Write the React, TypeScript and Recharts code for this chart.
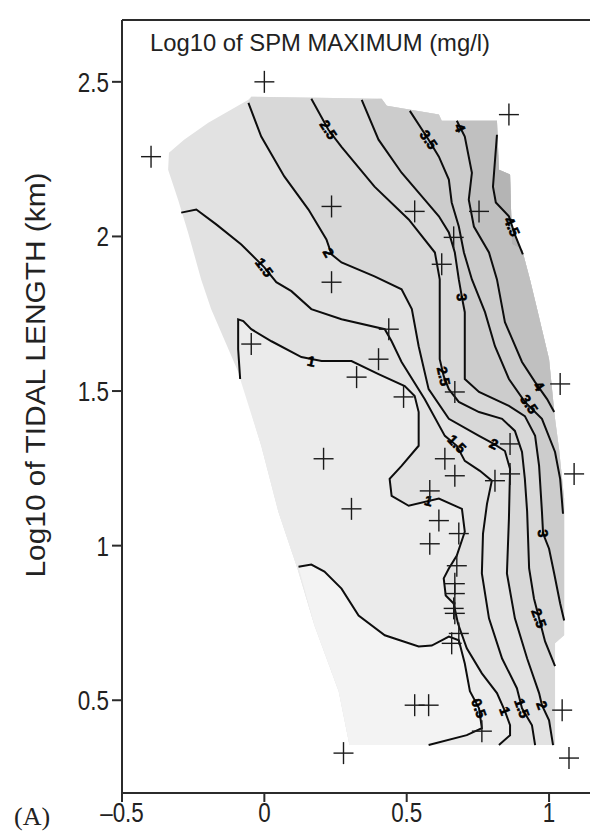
import React from "react";
import { ComposedChart, Scatter, XAxis, YAxis } from "recharts";

type XY = [number, number];

// outline of the gridded (shaded) area, clockwise from top-left
const HULL: XY[] = [
  [-0.056, 2.442], [-0.046, 2.452], [0.412, 2.445], [0.43, 2.423], [0.613, 2.394],
  [0.623, 2.374], [0.817, 2.374], [0.824, 2.216], [0.863, 2.2], [0.87, 1.974],
  [0.905, 1.958], [0.933, 1.861], [0.958, 1.765], [1.0, 1.603], [1.021, 1.41],
  [1.035, 1.313], [1.053, 1.152], [1.053, 0.71], [1.021, 0.684], [1.021, 0.355],
  [0.299, 0.355], [0.261, 0.529], [0.176, 0.742], [0.116, 0.926], [0.049, 1.11],
  [-0.011, 1.323], [-0.081, 1.539], [-0.187, 1.765], [-0.222, 1.861], [-0.268, 2.013],
  [-0.303, 2.119], [-0.338, 2.216], [-0.335, 2.271], [-0.282, 2.313], [-0.197, 2.368],
];

// contour lines (log10 SPM max)
const LINE_05: XY[] = [
  [0.12, 0.932], [0.165, 0.939], [0.211, 0.916], [0.271, 0.861], [0.331, 0.774],
  [0.423, 0.71], [0.542, 0.674], [0.588, 0.677], [0.648, 0.706], [0.683, 0.694],
  [0.704, 0.619], [0.722, 0.529], [0.754, 0.474], [0.764, 0.41], [0.711, 0.387],
  [0.577, 0.355],
];
const LINE_1: XY[] = [
  [-0.085, 1.539], [-0.092, 1.635], [-0.092, 1.732], [-0.074, 1.726], [-0.046, 1.7],
  [0.025, 1.661], [0.13, 1.61], [0.201, 1.597], [0.306, 1.597], [0.401, 1.555],
  [0.493, 1.516], [0.528, 1.484], [0.542, 1.432], [0.542, 1.323], [0.482, 1.258],
  [0.44, 1.216], [0.447, 1.161], [0.507, 1.129], [0.613, 1.152], [0.694, 1.119],
  [0.704, 1.045], [0.676, 0.968], [0.648, 0.926], [0.63, 0.894], [0.637, 0.839],
  [0.665, 0.813], [0.68, 0.748], [0.711, 0.668], [0.764, 0.587], [0.817, 0.523],
  [0.845, 0.465], [0.863, 0.419], [0.863, 0.387], [0.824, 0.355],
];
const LINE_15: XY[] = [
  [-0.292, 2.077], [-0.239, 2.087], [-0.169, 2.039], [-0.081, 1.974], [0.0, 1.9],
  [0.042, 1.852], [0.095, 1.823], [0.165, 1.765], [0.271, 1.732], [0.423, 1.7],
  [0.447, 1.661], [0.482, 1.594], [0.563, 1.474], [0.634, 1.355], [0.676, 1.323],
  [0.704, 1.274], [0.757, 1.242], [0.799, 1.21], [0.782, 1.135], [0.768, 1.039],
  [0.764, 0.91], [0.789, 0.765], [0.835, 0.635], [0.887, 0.539], [0.905, 0.474],
  [0.94, 0.419], [0.951, 0.355],
];
const LINE_2: XY[] = [
  [-0.056, 2.432], [-0.011, 2.323], [0.07, 2.194], [0.155, 2.087], [0.218, 1.99],
  [0.236, 1.942], [0.271, 1.916], [0.387, 1.871], [0.482, 1.829], [0.518, 1.765],
  [0.542, 1.645], [0.577, 1.506], [0.648, 1.41], [0.754, 1.355], [0.806, 1.329],
  [0.845, 1.306], [0.863, 1.248], [0.859, 1.087], [0.852, 0.91], [0.88, 0.765],
  [0.923, 0.635], [0.965, 0.523], [0.975, 0.484], [1.0, 0.435], [1.014, 0.355],
];
const LINE_25: XY[] = [
  [0.165, 2.445], [0.225, 2.345], [0.271, 2.29], [0.387, 2.161], [0.507, 2.055],
  [0.599, 1.948], [0.616, 1.861], [0.616, 1.603], [0.63, 1.548], [0.648, 1.506],
  [0.683, 1.465], [0.754, 1.432], [0.835, 1.41], [0.88, 1.371], [0.905, 1.303],
  [0.915, 1.216], [0.923, 1.11], [0.93, 0.926], [0.947, 0.829], [0.965, 0.765],
  [0.986, 0.69], [1.021, 0.61],
];
const LINE_3: XY[] = [
  [0.342, 2.442], [0.401, 2.313], [0.482, 2.206], [0.563, 2.119], [0.613, 2.065],
  [0.648, 2.013], [0.669, 1.948], [0.683, 1.861], [0.694, 1.803], [0.704, 1.755],
  [0.704, 1.539], [0.754, 1.497], [0.859, 1.452], [0.915, 1.419], [0.951, 1.355],
  [0.965, 1.258], [0.975, 1.11], [0.979, 1.039], [1.0, 0.99], [1.018, 0.91],
  [1.039, 0.813], [1.053, 0.758],
];
const LINE_35: XY[] = [
  [0.511, 2.406], [0.577, 2.313], [0.613, 2.258], [0.648, 2.184], [0.658, 2.11],
  [0.683, 2.032], [0.701, 1.948], [0.729, 1.861], [0.775, 1.755], [0.81, 1.645],
  [0.859, 1.539], [0.915, 1.465], [0.975, 1.41], [1.021, 1.303], [1.039, 1.216],
  [1.049, 1.103],
];
const LINE_4: XY[] = [
  [0.676, 2.374], [0.704, 2.323], [0.729, 2.206], [0.718, 2.119], [0.736, 2.032],
  [0.789, 1.948], [0.817, 1.861], [0.845, 1.723], [0.905, 1.594], [0.951, 1.529],
  [0.993, 1.474], [1.018, 1.432],
];
const LINE_45: XY[] = [
  [0.817, 2.329], [0.803, 2.161], [0.813, 2.11], [0.859, 2.065], [0.88, 2.006],
  [0.908, 1.942],
];

// estuaries (crosses)
const STATIONS: XY[] = [
  [0, 2.5], [-0.398, 2.258], [0.236, 2.097], [0.528, 2.081], [0.859, 2.394],
  [0.754, 2.081], [0.665, 1.997], [0.623, 1.91], [0.236, 1.852], [0.437, 1.7],
  [0.401, 1.603], [0.324, 1.545], [0.489, 1.481], [0.669, 1.497], [-0.046, 1.652],
  [1.039, 1.523], [0.208, 1.281], [0.306, 1.119], [0.634, 1.281], [0.669, 1.226],
  [0.863, 1.329], [0.863, 1.232], [0.81, 1.21], [1.088, 1.232], [0.581, 1.177],
  [0.613, 1.081], [0.683, 1.039], [0.581, 1.006], [0.676, 0.935], [0.669, 0.877],
  [0.669, 0.845], [0.665, 0.797], [0.669, 0.781], [0.683, 0.716], [0.658, 0.684],
  [0.528, 0.484], [0.577, 0.484], [0.278, 0.329], [1.046, 0.468], [1.07, 0.313],
  [0.764, 0.4],
];

// contour labels: x, y, text, angle
const CONTOUR_LABELS: [number, number, string, number][] = [
  [0.225, 2.345, "2.5", 57], [0.577, 2.313, "3.5", 55], [0.687, 2.352, "4", 70],
  [0.87, 2.032, "4.5", 65], [0.225, 1.948, "2", 60], [0.0, 1.9, "1.5", 53],
  [0.165, 1.597, "1", 12], [0.694, 1.803, "3", 88], [0.63, 1.548, "2.5", 78],
  [0.676, 1.329, "1.5", 45], [0.806, 1.329, "2", 25], [0.577, 1.145, "1", 15],
  [0.93, 1.458, "3.5", 55], [0.965, 1.516, "4", 55], [0.979, 1.039, "3", 85],
  [0.965, 0.765, "2.5", 70], [0.754, 0.474, "0.5", 70], [0.845, 0.465, "1", 70],
  [0.905, 0.474, "1.5", 70], [0.975, 0.484, "2", 70],
];

const X_TICKS = [-0.5, 0, 0.5, 1];
const Y_TICKS = [0.5, 1, 1.5, 2, 2.5];

const SANS = "'Liberation Sans', Arial, sans-serif";
const AXIS = { stroke: "#2b2b2b", strokeWidth: 2 };

const pts = (a: XY[]) => a.map(([x, y]) => ({ x, y }));
const span = (a: number, b: number) => {
  const out: number[] = [];
  const s = a <= b ? 1 : -1;
  for (let i = a; i !== b + s; i += s) out.push(i);
  return out;
};
const region = (line: XY[], a: number, b: number) =>
  pts([...line, ...span(a, b).map((i) => HULL[i])]);

const BANDS = [
  { key: "all", data: pts(HULL), fill: "#e2e2e2" },
  { key: "lt1", data: region(LINE_1, 20, 25), fill: "#ebebeb" },
  { key: "lt05", data: region(LINE_05, 20, 22), fill: "#f3f3f3" },
  { key: "ge2", data: region(LINE_2, 19, 1), fill: "#d8d8d8" },
  { key: "ge3", data: region(LINE_3, 16, 2), fill: "#cccccc" },
  { key: "ge4", data: region(LINE_4, 13, 6), fill: "#c0c0c0" },
  { key: "ge45", data: region(LINE_45, 10, 7), fill: "#b4b4b4" },
];

const LINES = [LINE_05, LINE_1, LINE_15, LINE_2, LINE_25, LINE_3, LINE_35, LINE_4, LINE_45];

const fmt = (v: number) => (v < 0 ? "\u2013" + Math.abs(v) : String(v));

const NoDot = () => <g />;

const Cross = (props: any) => {
  const { cx, cy } = props;
  return (
    <g stroke="#1a1a1a" strokeWidth={1.4}>
      <line x1={cx - 10} y1={cy} x2={cx + 10} y2={cy} />
      <line x1={cx} y1={cy - 11} x2={cx} y2={cy + 11} />
    </g>
  );
};

const LevelLabel = (props: any) => {
  const { cx, cy, payload } = props;
  return (
    <text
      x={cx}
      y={cy}
      dy={5}
      transform={`rotate(${payload.a} ${cx} ${cy})`}
      textAnchor="middle"
      fontSize={14}
      fontWeight="bold"
      fontFamily={SANS}
      fill="#000"
      stroke="#000"
      strokeWidth={0.6}
    >
      {payload.t}
    </text>
  );
};

const XTick = ({ x, y, payload }: any) => (
  <g transform={`translate(${x},${y}) scale(0.8,1)`}>
    <text x={0} y={0} dy={20} textAnchor="middle" fontSize={28} fill="#222" fontFamily={SANS}>
      {fmt(payload.value)}
    </text>
  </g>
);

const YTick = ({ x, y, payload }: any) => (
  <g transform={`translate(${x},${y}) scale(0.8,1)`}>
    <text x={0} y={0} dy={10} textAnchor="end" fontSize={28} fill="#222" fontFamily={SANS}>
      {fmt(payload.value)}
    </text>
  </g>
);

export default function App() {
  const labels = CONTOUR_LABELS.map(([x, y, t, a]) => ({ x, y, t, a }));
  return (
    <div style={{ position: "relative", width: 590, height: 823, overflow: "hidden" }}>
      <ComposedChart width={608} height={823} margin={{ top: 2, right: 10, bottom: 8, left: 54 }}>
        <XAxis
          type="number"
          dataKey="x"
          domain={[-0.5, 1.2]}
          allowDataOverflow
          ticks={X_TICKS}
          height={30}
          tickSize={9}
          tickMargin={0}
          axisLine={AXIS}
          tickLine={AXIS}
          tick={<XTick />}
        />
        <XAxis
          xAxisId="top"
          orientation="top"
          type="number"
          dataKey="x"
          domain={[-0.5, 1.2]}
          allowDataOverflow
          ticks={X_TICKS}
          height={10}
          tickSize={10}
          axisLine={AXIS}
          tickLine={AXIS}
          tick={false}
        />
        <YAxis
          type="number"
          dataKey="y"
          domain={[0.2, 2.7]}
          allowDataOverflow
          ticks={Y_TICKS}
          width={60}
          tickSize={10}
          tickMargin={3}
          axisLine={AXIS}
          tickLine={AXIS}
          tick={<YTick />}
        />
        {BANDS.map((b) => (
          <Scatter
            key={b.key}
            data={b.data}
            shape={NoDot}
            line={{ fill: b.fill, stroke: "none" }}
            isAnimationActive={false}
          />
        ))}
        {LINES.map((l, i) => (
          <Scatter
            key={"c" + i}
            data={pts(l)}
            shape={NoDot}
            line={{ fill: "none", stroke: "#0d0d0d", strokeWidth: 2 }}
            isAnimationActive={false}
          />
        ))}
        <Scatter data={labels} shape={LevelLabel} isAnimationActive={false} />
        <Scatter data={pts(STATIONS)} shape={Cross} isAnimationActive={false} />
      </ComposedChart>
      <svg
        width={590}
        height={823}
        style={{ position: "absolute", left: 0, top: 0, pointerEvents: "none" }}
      >
        <text
          x={142}
          y={43}
          fontSize={24}
          fill="#222"
          fontFamily={SANS}
          textLength={340}
          lengthAdjust="spacingAndGlyphs"
        >
          Log10 of SPM MAXIMUM (mg/l)
        </text>
        <text
          transform="translate(37,367) rotate(-90)"
          textAnchor="middle"
          fontSize={27}
          fill="#222"
          fontFamily={SANS}
          textLength={405}
          lengthAdjust="spacingAndGlyphs"
        >
          Log10 of TIDAL LENGTH (km)
        </text>
        <text x={6} y={817} fontSize={26} fill="#222" fontFamily="'Liberation Serif', 'Times New Roman', serif">
          (A)
        </text>
      </svg>
    </div>
  );
}
